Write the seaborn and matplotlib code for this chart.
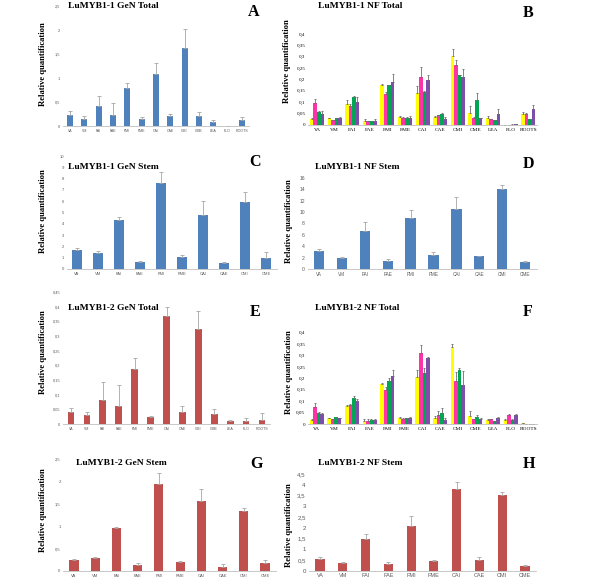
import numpy as np
import pandas as pd
import matplotlib
matplotlib.use("Agg")
import matplotlib.pyplot as plt
from matplotlib.ticker import MultipleLocator, FuncFormatter
import seaborn as sns

# ---------------- data ----------------
cats13 = ['VA', 'VM', 'FAI', 'FAE', 'FMI', 'FME', 'CAI', 'CAE', 'CMI', 'CME', 'LEA', 'FLO', 'ROOTS']
cats10 = ['VA', 'VM', 'FAI', 'FAE', 'FMI', 'FME', 'CAI', 'CAE', 'CMI', 'CME']
series_names = ['s1', 's2', 's3', 's4']

# A: LuMYB1-1 GeN Total
A_vals = [0.23, 0.15, 0.42, 0.23, 0.80, 0.15, 1.08, 0.21, 1.63, 0.20, 0.08, 0.005, 0.13]
A_errs = [0.08, 0.05, 0.21, 0.24, 0.10, 0.03, 0.24, 0.04, 0.39, 0.09, 0.04, 0.005, 0.06]

# B: LuMYB1-1 NF Total (4 series)
B_yellow = [0.026, 0.029, 0.093, 0.019, 0.175, 0.037, 0.140, 0.035, 0.303, 0.051, 0.032, 0.001, 0.047]
B_yellow_err = [0.003, 0.003, 0.017, 0.007, 0.005, 0.003, 0.033, 0.003, 0.032, 0.033, 0.008, 0.0, 0.010]
B_pink = [0.096, 0.022, 0.085, 0.016, 0.137, 0.031, 0.213, 0.043, 0.263, 0.029, 0.026, 0.001, 0.050]
B_pink_err = [0.019, 0.002, 0.006, 0.003, 0.010, 0.003, 0.041, 0.003, 0.021, 0.007, 0.002, 0.0, 0.004]
B_green = [0.059, 0.029, 0.122, 0.016, 0.175, 0.031, 0.143, 0.050, 0.218, 0.110, 0.022, 0.002, 0.025]
B_green_err = [0.004, 0.003, 0.004, 0.003, 0.003, 0.003, 0.005, 0.002, 0.002, 0.030, 0.002, 0.001, 0.002]
B_purple = [0.049, 0.032, 0.103, 0.019, 0.188, 0.032, 0.199, 0.026, 0.209, 0.029, 0.050, 0.003, 0.069]
B_purple_err = [0.013, 0.002, 0.022, 0.007, 0.037, 0.008, 0.020, 0.010, 0.038, 0.002, 0.021, 0.002, 0.018]

# C: LuMYB1-1 GeN Stem
C_vals = [1.70, 1.38, 4.30, 0.62, 7.65, 1.09, 4.82, 0.56, 5.90, 0.94]
C_errs = [0.15, 0.21, 0.30, 0.08, 0.91, 0.15, 1.21, 0.03, 0.90, 0.53]

# D: LuMYB1-1 NF Stem
D_vals = [3.14, 1.92, 6.74, 1.45, 8.90, 2.44, 10.47, 2.20, 14.0, 1.22]
D_errs = [0.36, 0.13, 1.52, 0.29, 1.40, 0.53, 2.09, 0.07, 0.80, 0.12]

# E: LuMYB1-2 GeN Total
E_vals = [0.040, 0.032, 0.083, 0.060, 0.188, 0.025, 0.368, 0.042, 0.323, 0.034, 0.011, 0.011, 0.014]
E_errs = [0.016, 0.009, 0.059, 0.074, 0.038, 0.003, 0.031, 0.018, 0.062, 0.017, 0.003, 0.009, 0.024]

# F: LuMYB1-2 NF Total (4 series)
F_yellow = [0.017, 0.025, 0.081, 0.015, 0.176, 0.028, 0.208, 0.025, 0.339, 0.036, 0.019, 0.017, 0.003]
F_yellow_err = [0.004, 0.002, 0.004, 0.006, 0.004, 0.002, 0.027, 0.008, 0.010, 0.022, 0.002, 0.007, 0.001]
F_pink = [0.076, 0.020, 0.083, 0.012, 0.151, 0.023, 0.310, 0.041, 0.189, 0.020, 0.020, 0.039, 0.001]
F_pink_err = [0.017, 0.002, 0.004, 0.008, 0.013, 0.002, 0.036, 0.014, 0.041, 0.002, 0.002, 0.003, 0.0]
F_green = [0.047, 0.029, 0.116, 0.016, 0.188, 0.026, 0.225, 0.048, 0.237, 0.029, 0.012, 0.019, 0.001]
F_green_err = [0.004, 0.003, 0.006, 0.006, 0.012, 0.002, 0.019, 0.022, 0.010, 0.012, 0.001, 0.002, 0.0]
F_purple = [0.044, 0.026, 0.102, 0.016, 0.212, 0.028, 0.291, 0.019, 0.172, 0.023, 0.028, 0.039, 0.001]
F_purple_err = [0.003, 0.002, 0.006, 0.006, 0.025, 0.002, 0.003, 0.007, 0.061, 0.002, 0.002, 0.003, 0.0]

# G: LuMYB1-2 GeN Stem
G_vals = [0.24, 0.30, 0.96, 0.13, 1.94, 0.21, 1.57, 0.10, 1.34, 0.17]
G_errs = [0.02, 0.015, 0.02, 0.05, 0.26, 0.01, 0.27, 0.05, 0.06, 0.08]

# H: LuMYB1-2 NF Stem
H_vals = [0.56, 0.36, 1.46, 0.30, 2.07, 0.45, 3.82, 0.51, 3.52, 0.20]
H_errs = [0.08, 0.03, 0.24, 0.10, 0.48, 0.03, 0.31, 0.11, 0.16, 0.05]

titles = ['LuMYB1-1 GeN Total', 'LuMYB1-1 NF Total', 'LuMYB1-1 GeN Stem', 'LuMYB1-1 NF Stem',
          'LuMYB1-2 GeN Total', 'LuMYB1-2 NF Total', 'LuMYB1-2 GeN Stem', 'LuMYB1-2 NF Stem']
letters = ['A', 'B', 'C', 'D', 'E', 'F', 'G', 'H']
ylabel = 'Relative quantification'

BLUE = '#4F81BD'
RED = '#C0504D'
HUE_COLORS = ['#FFFF00', '#FF33A8', '#00A651', '#7E4FA8']

# ---------------- style ----------------
sns.set_style('white')
plt.rcParams['font.family'] = ['Liberation Sans', 'DejaVu Sans']
plt.rcParams['patch.force_edgecolor'] = False

W, H = 600, 584
fig = plt.figure(figsize=(W / 100, H / 100), dpi=100)
SERIF = 'Liberation Serif'


def comma_fmt(v, pos):
    s = f'{v:.2f}'.rstrip('0').rstrip('.')
    return s.replace('.', ',')


def make_ax(x0, x1, ytop, ybot):
    return fig.add_axes([x0 / W, 1 - ybot / H, (x1 - x0) / W, (ybot - ytop) / H])


def style_ax(ax, ymax, step, xfs, yfs, serif_ticks=False):
    ax.set_ylim(0, ymax)
    ax.yaxis.set_major_locator(MultipleLocator(step))
    ax.yaxis.set_major_formatter(FuncFormatter(comma_fmt))
    for s in ['top', 'right', 'left']:
        ax.spines[s].set_visible(False)
    ax.spines['bottom'].set_color('#BFBFBF')
    ax.spines['bottom'].set_linewidth(0.6)
    ax.set_xlabel('')
    ax.set_ylabel('')
    ax.tick_params(length=0, pad=2)
    col = '#000000' if serif_ticks else '#595959'
    fam = SERIF if serif_ticks else 'Liberation Sans'
    for lab in ax.get_xticklabels():
        lab.set_fontsize(xfs)
        lab.set_color(col)
        lab.set_family(fam)
    for lab in ax.get_yticklabels():
        lab.set_fontsize(yfs)
        lab.set_color(col)
        lab.set_family(fam)
    ax.grid(False)


def single(rect, cats, vals, errs, color, ymax, step, width, xfs, yfs):
    ax = make_ax(*rect)
    df = pd.DataFrame({'cat': cats, 'val': vals})
    sns.barplot(data=df, x='cat', y='val', color=color, saturation=1, width=width,
                errorbar=None, linewidth=0, edgecolor='none', ax=ax)
    ax.errorbar(np.arange(len(cats)), vals, yerr=[np.zeros(len(errs)), errs], fmt='none',
                ecolor='#A6A6A6', elinewidth=0.6, capsize=1.3, capthick=0.6)
    ax.set_xlim(-0.5, len(cats) - 0.5)
    style_ax(ax, ymax, step, xfs, yfs)
    return ax


def grouped(rect, cats, series, errs, ymax, step, xfs, yfs):
    ax = make_ax(*rect)
    rows = []
    for si, (sv, se) in enumerate(zip(series, errs)):
        for ci, c in enumerate(cats):
            rows.append({'cat': c, 'series': series_names[si], 'val': sv[ci], 'err': se[ci]})
    df = pd.DataFrame(rows)
    sns.barplot(data=df, x='cat', y='val', hue='series', palette=HUE_COLORS, saturation=1,
                width=0.8, errorbar=None, legend=False, linewidth=0, edgecolor='none', ax=ax)
    xs, ys, es = [], [], []
    for p in ax.patches:
        xc = p.get_x() + p.get_width() / 2
        ci = int(round(xc))
        hi = int(round((xc - ci + 0.3) / 0.2))
        if 0 <= ci < len(cats) and 0 <= hi < 4:
            xs.append(xc)
            ys.append(series[hi][ci])
            es.append(errs[hi][ci])
    ax.errorbar(xs, ys, yerr=[np.zeros(len(es)), es], fmt='none', ecolor='#6E6E6E',
                elinewidth=0.6, capsize=1.0, capthick=0.6)
    ax.set_xlim(-0.5, len(cats) - 0.5)
    style_ax(ax, ymax, step, xfs, yfs, serif_ticks=True)
    return ax


# Panels: rect = (x_left, x_right, y_top(ymax), y_bottom(0)) in pixels
single((62.8, 249.0, 6, 126), cats13, A_vals, A_errs, BLUE, 2.5, 0.5, 0.42, 2.6, 2.8)
grouped((308.2, 537.0, 34, 125), cats13,
        [B_yellow, B_pink, B_green, B_purple],
        [B_yellow_err, B_pink_err, B_green_err, B_purple_err], 0.4, 0.05, 3.9, 3.6)
single((66.5, 276.5, 156, 269), cats10, C_vals, C_errs, BLUE, 10, 1, 0.48, 3.0, 3.0)
single((307.6, 536.5, 177.7, 269), cats10, D_vals, D_errs, BLUE, 16, 2, 0.45, 3.4, 3.6)
single((63.0, 270.0, 292, 424), cats13, E_vals, E_errs, RED, 0.45, 0.05, 0.42, 2.6, 2.8)
grouped((308.0, 537.0, 332.7, 424), cats13,
        [F_yellow, F_pink, F_green, F_purple],
        [F_yellow_err, F_pink_err, F_green_err, F_purple_err], 0.4, 0.05, 3.9, 3.6)
single((63.4, 275.6, 459.3, 571), cats10, G_vals, G_errs, RED, 2.5, 0.5, 0.43, 3.0, 3.0)
single((308.6, 536.4, 474.3, 570.7), cats10, H_vals, H_errs, RED, 4.5, 0.5, 0.40, 4.0, 4.4)

# titles (left x, center y)
title_pos = [(68, 6.5), (318, 6.5), (68, 167), (315, 167), (68, 308), (315, 308), (76, 463), (318, 463)]
letter_pos = [(248, 12), (523, 13), (249, 162), (523, 164), (250, 312), (523, 312), (250, 464), (523, 464)]
ylab_pos = [(43, 64), (287, 61), (43, 211), (289, 221), (43, 352), (289, 372), (43, 510), (289, 525)]

for t, (x, y) in zip(titles, title_pos):
    fig.text(x / W, 1 - y / H, t, ha='left', va='center', family=SERIF, fontweight='bold',
             fontsize=6.8, color='black')
for t, (x, y) in zip(letters, letter_pos):
    fig.text(x / W, 1 - y / H, t, ha='left', va='center', family=SERIF, fontweight='bold',
             fontsize=11.5, color='black')
for (x, y) in ylab_pos:
    fig.text(x / W, 1 - y / H, ylabel, ha='center', va='center', rotation=90, family=SERIF,
             fontweight='bold', fontsize=6.2, color='black')

fig.savefig('out.png', dpi=100, facecolor='white')
